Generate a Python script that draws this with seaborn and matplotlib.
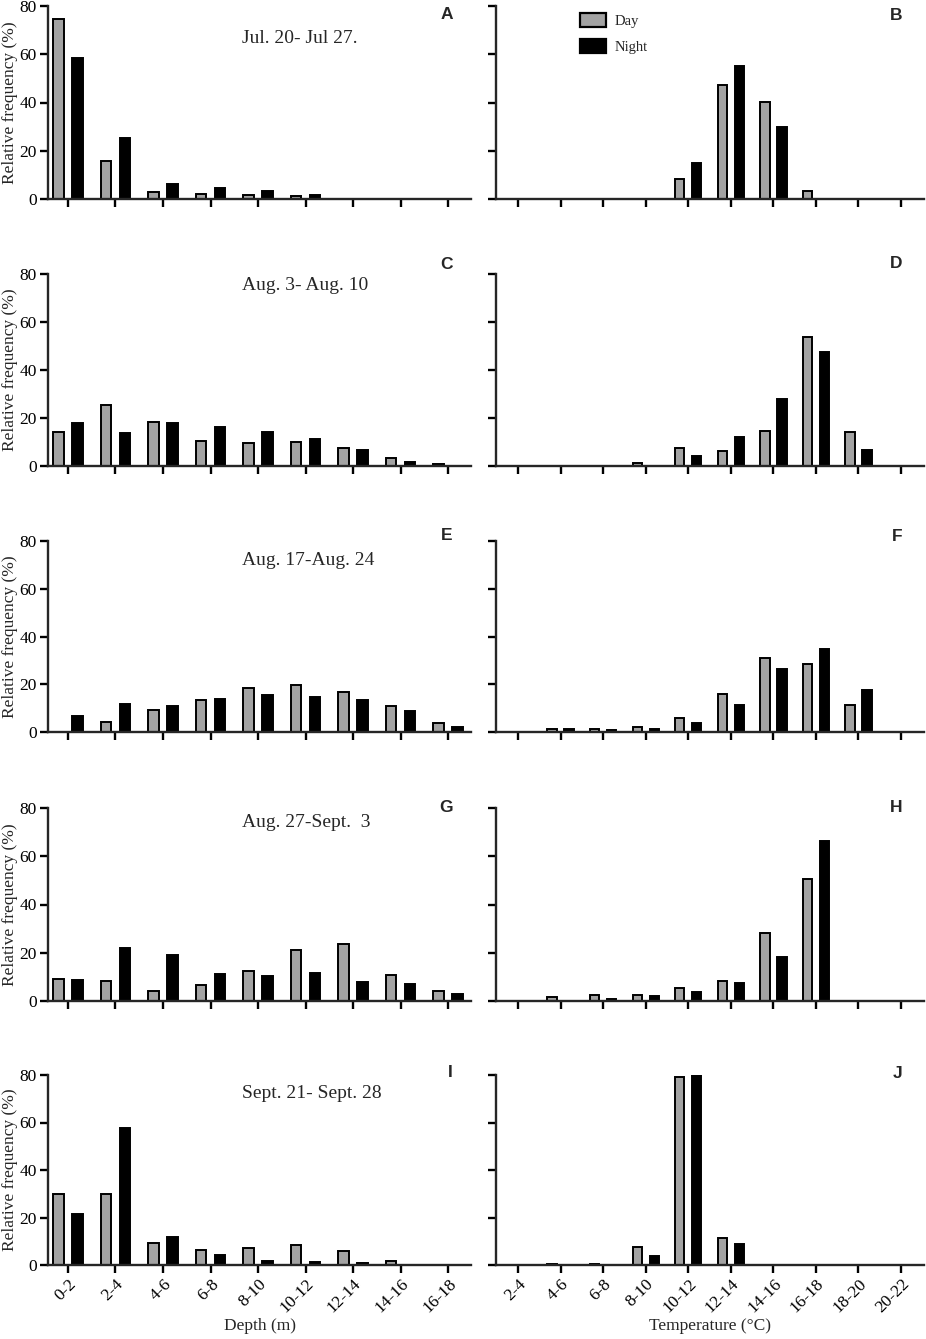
import numpy as np
import pandas as pd
import matplotlib
matplotlib.use("Agg")
import matplotlib.pyplot as plt
import matplotlib.patches as mpatches
import seaborn as sns

# DATOS
depth_bins = ['0-2', '2-4', '4-6', '6-8', '8-10', '10-12', '12-14', '14-16', '16-18']
temp_bins = ['2-4', '4-6', '6-8', '8-10', '10-12', '12-14', '14-16', '16-18', '18-20', '20-22']

periods = ['Jul. 20- Jul 27.', 'Aug. 3- Aug. 10', 'Aug. 17-Aug. 24', 'Aug. 27-Sept.  3', 'Sept. 21- Sept. 28']
letters_depth = ['A', 'C', 'E', 'G', 'I']
letters_temp = ['B', 'D', 'F', 'H', 'J']

depth_day = [
    [74.7, 15.8, 2.8, 2.1, 1.8, 1.1, 0, 0, 0],
    [14.3, 25.3, 18.2, 10.6, 9.4, 10.0, 7.6, 3.3, 1.0],
    [0, 4.0, 9.2, 13.4, 18.5, 19.5, 16.9, 11.0, 3.8],
    [9.0, 8.2, 4.2, 6.7, 12.5, 21.2, 23.7, 10.7, 4.2],
    [29.8, 30.0, 9.4, 6.3, 7.2, 8.4, 6.0, 1.7, 0],
]
depth_night = [
    [58.6, 25.3, 6.1, 4.4, 3.2, 1.5, 0, 0, 0],
    [18.1, 13.9, 18.0, 16.4, 14.2, 11.3, 6.8, 1.7, 0],
    [6.5, 11.6, 11.0, 13.8, 15.6, 14.6, 13.2, 8.6, 2.1],
    [8.5, 22.0, 18.9, 11.0, 10.4, 11.8, 7.9, 7.1, 2.9],
    [21.6, 57.8, 11.9, 4.1, 1.8, 1.3, 0.7, 0, 0],
]
temp_day = [
    [0, 0, 0, 0, 8.3, 47.3, 40.4, 3.2, 0, 0],
    [0, 0, 0, 1.3, 7.4, 6.4, 14.6, 53.9, 14.1, 0],
    [0, 1.25, 1.25, 1.9, 5.8, 16.0, 31.0, 28.6, 11.4, 0],
    [0, 1.7, 2.5, 2.5, 5.4, 8.3, 28.2, 50.5, 0, 0],
    [0, 0.3, 0.3, 7.4, 79.3, 11.3, 0, 0, 0, 0],
]
temp_night = [
    [0, 0, 0, 0, 14.9, 55.2, 29.7, 0, 0, 0],
    [0, 0, 0, 0, 4.2, 12.0, 27.9, 47.5, 6.8, 0],
    [0, 1.25, 1.0, 1.25, 3.75, 11.4, 26.4, 34.7, 17.6, 0],
    [0, 0, 0.8, 2.2, 3.9, 7.6, 18.4, 66.3, 0, 0],
    [0, 0, 0, 4.0, 80.0, 8.7, 0, 0, 0, 0],
]

# ESTILO
sns.set_style('ticks')
plt.rcParams['font.family'] = ['Liberation Serif', 'DejaVu Serif']
plt.rcParams['axes.linewidth'] = 1.7

COLORS = {'Day': '#a3a3a3', 'Night': 'black'}
W, H = 926, 1339
TICK_FS = 12.5
LABEL_FS = 12.5

# posiciones en pixeles (izq, der, arriba, abajo)
left_col = (48, 471)
right_col = (496, 924)
rows = [(6, 199), (274, 466), (541, 732), (808, 1001), (1075, 1265)]
title_y = [0.83, 0.94, 0.90, 0.925, 0.905]
letter_y_left = [0.956, 1.047, 1.029, 1.005, 1.013]
letter_y_right = [0.953, 1.055, 1.026, 1.003, 1.01]


def make_ax(fig, col, row):
    x0, x1 = col
    y0, y1 = row
    return fig.add_axes([x0 / W, 1 - y1 / H, (x1 - x0) / W, (y1 - y0) / H])


def draw_panel(ax, bins, day, night, xlim):
    df = pd.DataFrame({
        'bin': bins * 2,
        'freq': list(day) + list(night),
        'period': ['Day'] * len(bins) + ['Night'] * len(bins),
    })
    sns.barplot(data=df, x='bin', y='freq', hue='period', order=bins,
                hue_order=['Day', 'Night'], palette=COLORS, saturation=1,
                width=0.8, gap=0.45, edgecolor='black', linewidth=1.4,
                legend=False, ax=ax)
    ax.set_ylim(0, 80)
    ax.set_xlim(*xlim)
    ax.set_yticks([0, 20, 40, 60, 80])
    ax.tick_params(axis='both', direction='out', length=6, width=1.7,
                   colors='black', labelsize=TICK_FS, pad=2)
    sns.despine(ax=ax)
    ax.set_xlabel('')
    ax.set_ylabel('')


fig = plt.figure(figsize=(W / 100, H / 100), dpi=100)

for i in range(5):
    # profundidad
    ax = make_ax(fig, left_col, rows[i])
    draw_panel(ax, depth_bins, depth_day[i], depth_night[i], (-0.42, 8.48))
    ax.set_ylabel('Relative frequency (%)', fontsize=LABEL_FS, labelpad=1)
    ax.text(0.459, title_y[i], periods[i], transform=ax.transAxes,
            fontsize=14, ha='left', va='center')
    ax.text(0.957, letter_y_left[i], letters_depth[i], transform=ax.transAxes,
            fontsize=12.5, fontweight='bold', family='Liberation Sans',
            ha='right', va='center')
    if i < 4:
        ax.set_xticklabels([])
    else:
        ax.set_xticklabels(depth_bins, rotation=45, ha='right',
                           rotation_mode='anchor', fontsize=TICK_FS)
        ax.set_xlabel('Depth (m)', fontsize=LABEL_FS, labelpad=1)

    # temperatura
    ax2 = make_ax(fig, right_col, rows[i])
    draw_panel(ax2, temp_bins, temp_day[i], temp_night[i], (-0.52, 9.54))
    ax2.set_yticklabels([])
    ax2.text(0.95, letter_y_right[i], letters_temp[i], transform=ax2.transAxes,
             fontsize=12.5, fontweight='bold', family='Liberation Sans',
             ha='right', va='center')
    if i < 4:
        ax2.set_xticklabels([])
    else:
        ax2.set_xticklabels(temp_bins, rotation=45, ha='right',
                            rotation_mode='anchor', fontsize=TICK_FS)
        ax2.set_xlabel('Temperature (°C)', fontsize=LABEL_FS, labelpad=1)

    if i == 0:
        handles = [mpatches.Patch(facecolor=COLORS[p], edgecolor='black',
                                  linewidth=1.6, label=p) for p in ['Day', 'Night']]
        ax2.legend(handles=handles, loc='upper left', bbox_to_anchor=(0.165, 1.03),
                   frameon=False, fontsize=10.5, handlelength=1.8,
                   handleheight=1.1, labelspacing=0.75, handletextpad=0.6)

fig.savefig('out.png', dpi=100)
plt.close(fig)
